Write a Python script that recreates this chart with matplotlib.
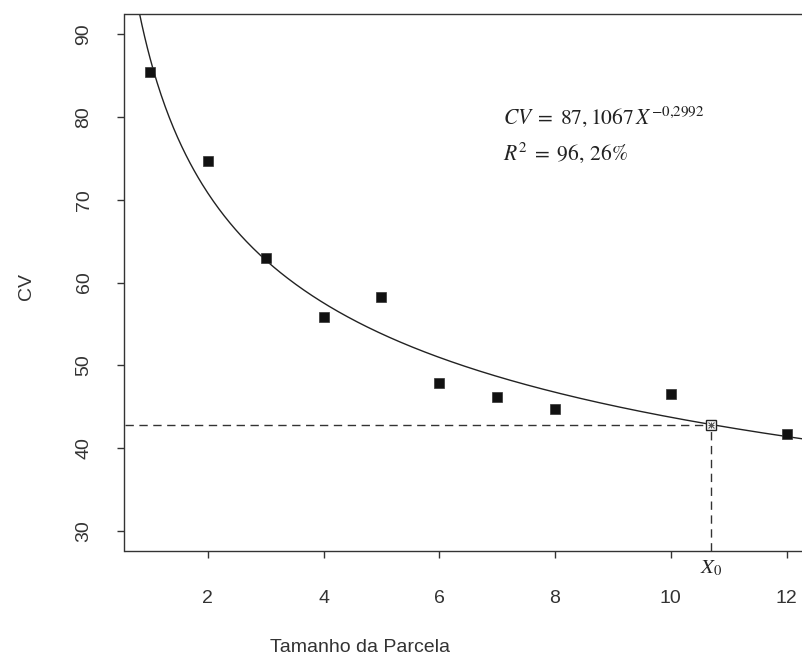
import numpy as np
import matplotlib
matplotlib.use("Agg")
import matplotlib.pyplot as plt

# Data
tamanho = [1, 2, 3, 4, 5, 6, 7, 8, 10, 12]
cv = [85.4, 74.7, 62.9, 55.8, 58.3, 47.9, 46.2, 44.7, 46.6, 41.7]
coef_a = 87.1067
coef_b = -0.2992
x0 = 10.70
xticks = [2, 4, 6, 8, 10, 12]
yticks = [30, 40, 50, 60, 70, 80, 90]

plt.rcParams['font.family'] = ['Liberation Sans', 'DejaVu Sans']
plt.rcParams['mathtext.fontset'] = 'stix'

W, H = 802, 660
fig = plt.figure(figsize=(W / 100, H / 100), dpi=100)
left_px, right_px, top_px, bot_px = 124.5, 812, 14, 551
ax = fig.add_axes([left_px / W, 1 - bot_px / H, (right_px - left_px) / W, (bot_px - top_px) / H])
ax.set_xlim(0.56, 12.44)
ax.set_ylim(27.6, 92.4)

# fitted curve
xc = np.linspace(0.6, 12.44, 500)
ax.plot(xc, coef_a * xc ** coef_b, color='#222222', lw=1.0, zorder=2)

# points
ax.plot(tamanho, cv, 's', color='#111111', ms=7.8, mec='#333333', mew=0.5, zorder=3, clip_on=False)

# X0 marker and dashed lines
y0 = coef_a * x0 ** coef_b
ax.plot([0.56, x0], [y0, y0], ls=(0, (6, 4)), color='#333333', lw=1.0, zorder=1)
ax.plot([x0, x0], [27.6, y0], ls=(0, (6, 4)), color='#333333', lw=1.0, zorder=1)
ax.plot([x0], [y0], 's', mfc='white', mec='#222222', ms=7.5, mew=1.0, zorder=4)
ax.plot([x0], [y0], 'x', color='#555555', ms=5, mew=0.8, zorder=5)
ax.plot([x0], [y0], '+', color='#555555', ms=5, mew=0.8, zorder=5)

fig.text(503 / W, 1 - 117 / H, r'$CV\;=\;87,1067\,X^{-0{,}2992}$', fontsize=15.5,
         ha='left', va='center', color='#222222')
fig.text(503 / W, 1 - 153 / H, r'$R^2\;=\;96,\,26\%$', fontsize=15.5,
         ha='left', va='center', color='#222222')

fig.text((left_px + (x0 - 0.56) / (12.44 - 0.56) * (right_px - left_px)) / W, 1 - 568 / H,
         r'$X_0$', fontsize=15, ha='center', va='center', color='#222222')

ax.set_xticks(xticks)
ax.set_yticks(yticks)
ax.set_xticklabels([str(t) for t in xticks], fontsize=14, color='#333333')
ax.set_yticklabels([str(t) for t in yticks], fontsize=14, color='#333333', rotation=90, va='center')
ax.tick_params(axis='both', direction='out', length=5, width=1.0, color='#333333')
ax.tick_params(axis='x', pad=23)
ax.tick_params(axis='y', pad=18)
for s in ax.spines.values():
    s.set_linewidth(1.0)
    s.set_color('#333333')

fig.text(27 / W, 1 - 286 / H, 'CV', rotation=90, fontsize=14, color='#333333', ha='center', va='center')
fig.text(360 / W, 1 - 648 / H, 'Tamanho da Parcela', fontsize=14, color='#333333', ha='center', va='center')

fig.savefig('out.png', dpi=100)
